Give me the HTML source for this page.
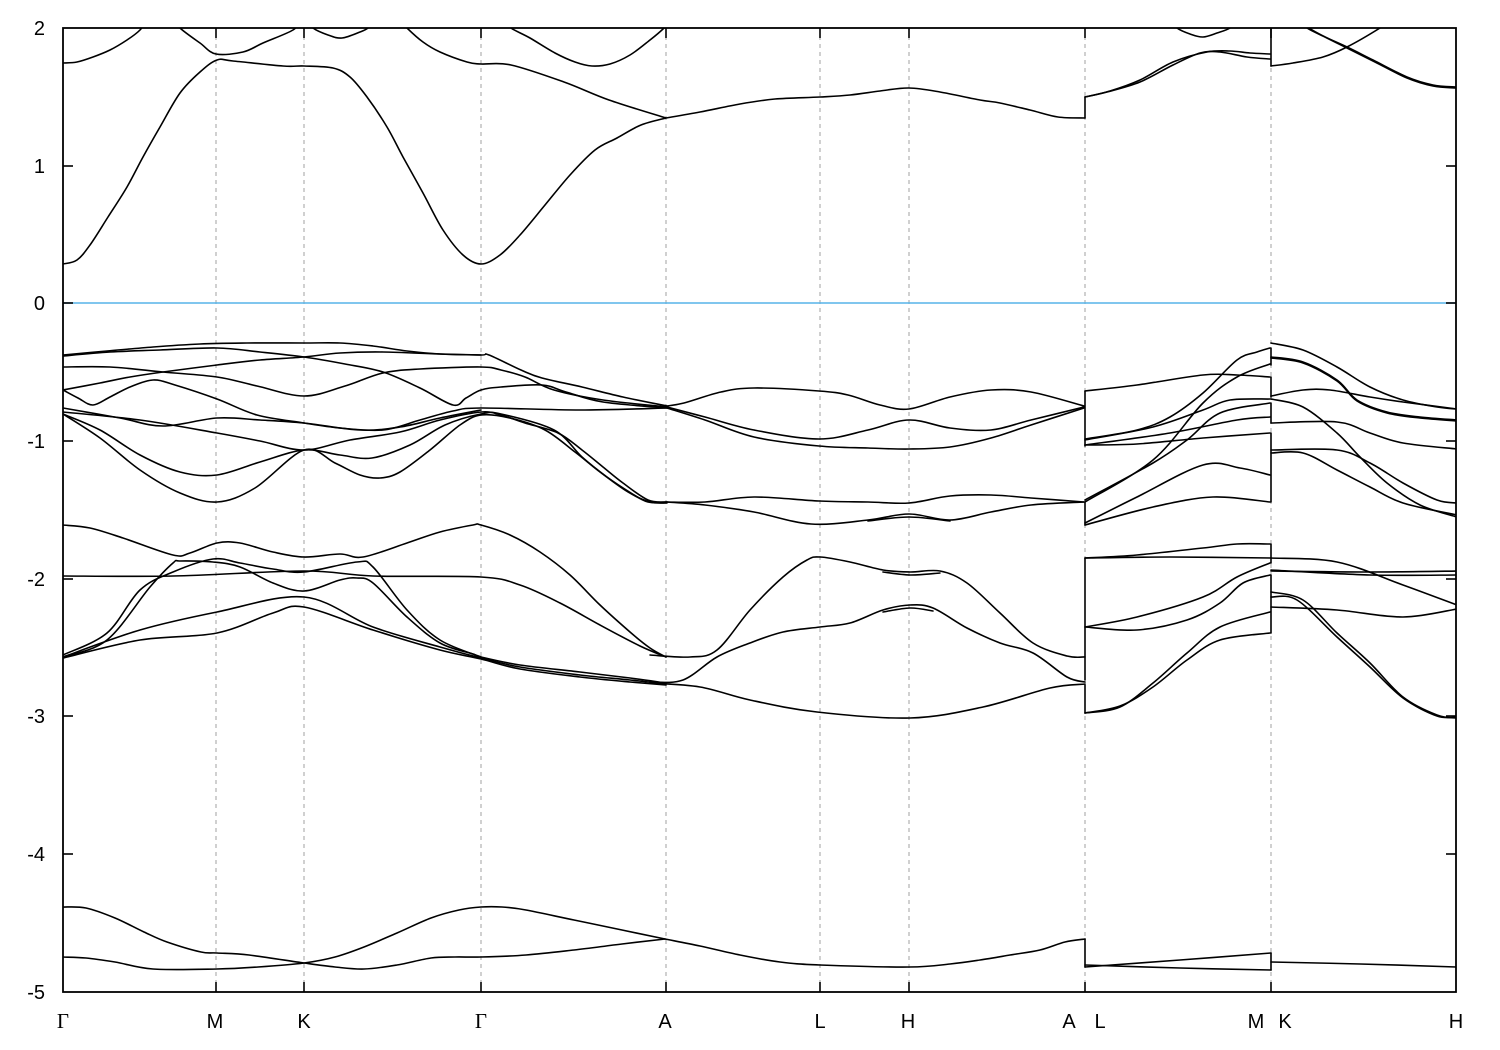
<!DOCTYPE html>
<html><head><meta charset="utf-8"><style>
html,body{margin:0;padding:0;background:#fff;}
svg{display:block;}
text{font-family:"Liberation Sans",sans-serif;font-size:20px;fill:#000;}
.b polyline,.b path,.b line{fill:none;stroke:#000;stroke-width:1.6;stroke-linejoin:round;stroke-linecap:round;}
.g{stroke:#a0a0a0;stroke-width:1;stroke-dasharray:4,4;}
</style></head><body>
<svg id="s" width="1500" height="1050" viewBox="0 0 1500 1050" xmlns="http://www.w3.org/2000/svg">
<defs><clipPath id="cp"><rect x="63" y="28" width="1393" height="964"/></clipPath></defs>
<rect width="1500" height="1050" fill="#fff"/>
<g class="g">
<line x1="216" y1="28" x2="216" y2="992"/><line x1="304" y1="28" x2="304" y2="992"/>
<line x1="481" y1="28" x2="481" y2="992"/><line x1="666" y1="28" x2="666" y2="992"/>
<line x1="820" y1="28" x2="820" y2="992"/><line x1="909" y1="28" x2="909" y2="992"/>
<line x1="1085" y1="28" x2="1085" y2="992"/><line x1="1271" y1="28" x2="1271" y2="992"/>
</g>
<line x1="63" y1="303" x2="1456" y2="303" stroke="#56b4e9" stroke-width="1.6"/>
<g clip-path="url(#cp)">
<g class="b" id="bands">
<!-- conduction -->
<polyline points="63,264 77,260 90,245 108,217 127,187 143,157 160,127 180,93 200,72 217,60 233,61 283,66 304,66 333,68 350,77 367,97 387,127 403,157 423,193 443,230 463,255 481,264 500,255 520,235 545,205 570,175 595,150 617,138 641,125 666,118"/>
<polyline points="63,63 77,62 93,57 110,50 127,40 140,30 146,20"/>
<polyline points="176,20 180,28 200,43 216,54 243,52 263,43 293,30 300,20"/>
<polyline points="308,20 313,28 328,35 342,38 360,32 368,28 375,20"/>
<polyline points="400,20 407,28 423,42 440,52 467,62 481,64 511,65 564,82 609,100 666,118"/>
<polyline points="505,20 511,28 530,38 555,53 575,62 592,66 610,64 630,55 650,40 664,28 670,20"/>
<polyline points="666,118 700,112 740,104 775,99 820,97 850,95 880,91 909,88 940,92 980,100 1000,103 1030,110 1058,117 1085,118"/>
<line x1="1085" y1="118" x2="1085" y2="97"/>
<polyline points="1085,97 1107,92 1140,82 1173,65 1200,53 1220,52 1247,57 1270,59"/>
<polyline points="1085,97 1110,91 1140,80 1173,62 1207,52 1230,51 1250,53 1270,54"/>
<polyline points="1172,20 1177,28 1190,34 1203,37 1217,33 1230,28 1236,20"/>
<line x1="1271" y1="28" x2="1271" y2="66"/>
<polyline points="1271,66 1293,63 1323,57 1347,47 1380,28 1390,20"/>
<polyline points="1300,20 1307,28 1325,37 1347,47 1373,60 1407,77 1433,85 1456,87"/>
<polyline points="1302,20 1309,28 1327,38 1349,49 1375,62 1407,78 1433,86 1456,88"/>
<!-- upper valence G-M-K-G -->
<polyline points="63,355 107,351 153,347 200,344 247,343 304,343 340,343 373,346 407,351 440,354 481,355 489,355 521,370 542,378 582,387 623,397 667,406"/>
<polyline points="63,356 110,352 160,350 217,348 260,352 304,357 345,364 383,372 420,388 453,405 466,398 481,390 501,387 542,385 566,392 603,402 667,408"/>
<polyline points="63,367 110,367 163,372 217,377 257,386 304,396 345,386 383,373 420,369 481,367 501,370 525,377 554,390 603,400 667,407"/>
<polyline points="63,390 78,398 93,405 110,397 130,387 153,380 175,385 217,399 257,415 304,423 340,428 383,430 420,420 453,411 481,408 580,410 667,408"/>
<polyline points="63,390 100,383 130,377 163,372 217,365 260,360 304,357 340,353 383,352 440,354 481,355"/>
<polyline points="63,408 120,418 163,426 217,418 260,420 304,423 360,430 400,427 440,418 481,410"/>
<polyline points="63,412 140,420 217,433 260,441 304,450 350,440 400,432 440,420 481,412 501,415 525,423 558,433 582,450 603,467 623,483 648,500 667,502"/>
<polyline points="63,414 100,430 140,455 180,472 217,475 260,462 304,450 340,455 372,458 410,445 445,425 481,414 501,414 554,430 582,457 607,477 631,493 648,502 667,502"/>
<polyline points="63,414 100,438 140,470 180,493 217,502 255,488 304,450 335,463 360,475 380,478 400,472 430,450 460,425 481,415 510,418 545,430 575,452 600,472 628,492 650,502 667,503"/>
<!-- A-L-H-A upper -->
<polyline points="667,406 684,403 721,392 754,388 819,391 848,395 880,405 909,409 950,397 991,390 1031,392 1084,406"/>
<polyline points="667,407 705,417 754,430 819,439 868,430 909,420 950,428 991,430 1031,420 1084,407"/>
<polyline points="667,408 705,420 754,437 819,446 868,448 909,449 950,447 991,438 1031,425 1084,408"/>
<polyline points="667,502 705,502 754,497 819,501 868,502 909,503 950,496 991,495 1031,498 1084,502"/>
<polyline points="667,502 705,505 754,512 811,524 868,520 909,514 950,520 991,512 1031,505 1084,502"/>
<polyline points="868,521 909,517 950,521"/>
<line x1="1085" y1="391" x2="1085" y2="446"/><line x1="1085" y1="502" x2="1085" y2="525"/>
<!-- L-M upper -->
<polyline points="1085,391 1137,385 1203,375 1237,375 1270,377"/>
<polyline points="1085,439 1137,430 1170,417 1203,393 1237,360 1257,352 1270,348"/>
<polyline points="1085,440 1153,427 1203,410 1230,400 1270,399"/>
<polyline points="1085,445 1170,433 1237,420 1270,417"/>
<polyline points="1085,445 1137,444 1203,438 1270,433"/>
<polyline points="1085,502 1153,460 1203,403 1237,377 1270,364"/>
<polyline points="1085,500 1153,463 1187,440 1220,413 1270,403"/>
<polyline points="1085,523 1137,497 1203,465 1240,468 1270,475"/>
<polyline points="1085,525 1153,507 1213,497 1270,502"/>
<line x1="1271" y1="348" x2="1271" y2="365"/><line x1="1271" y1="377" x2="1271" y2="397"/>
<line x1="1271" y1="403" x2="1271" y2="423"/><line x1="1271" y1="433" x2="1271" y2="502"/>
<!-- K-H upper -->
<polyline points="1271,343 1303,350 1337,367 1370,387 1403,400 1437,407 1457,409"/>
<polyline points="1271,357 1303,362 1337,380 1357,400 1387,412 1420,417 1457,420"/>
<polyline points="1271,358 1303,363 1337,381 1357,401 1387,413 1420,418 1457,421"/>
<polyline points="1271,396 1303,390 1330,390 1370,397 1403,402 1457,409"/>
<polyline points="1271,399 1303,407 1337,433 1360,457 1387,483 1420,505 1457,517"/>
<polyline points="1271,423 1337,422 1370,433 1403,443 1457,449"/>
<polyline points="1271,450 1337,450 1370,463 1403,483 1437,500 1457,503"/>
<polyline points="1271,453 1303,453 1337,470 1370,487 1403,503 1457,515"/>
<!-- middle group G-M-K-G-A -->
<polyline points="63,525 90,528 123,538 173,555 190,553 217,543 240,543 273,552 304,557 340,554 363,557 407,543 440,532 473,525 481,525 510,535 540,552 570,575 600,605 630,632 650,648 666,657"/>
<polyline points="63,576 173,576 304,571 373,576 481,577 520,585 560,603 600,625 640,646 666,657"/>
<polyline points="63,657 107,640 150,587 173,563 180,561 213,562 240,567 273,583 304,591 340,580 357,578 373,583 407,617 440,643 473,654 481,657 520,665 580,672 630,678 666,683"/>
<polyline points="63,655 107,633 140,590 173,572 213,559 240,563 273,569 304,572 357,562 373,567 407,610 440,640 481,657"/>
<polyline points="63,657 140,630 217,612 304,597 373,627 440,647 481,658 520,667 580,675 630,680 666,684"/>
<polyline points="63,658 140,640 217,633 273,613 304,607 373,630 440,650 481,659 520,669 580,677 630,682 666,685"/>
<!-- A-L-H-A middle -->
<polyline points="650,655 690,657 717,650 750,610 783,577 807,560 820,557 850,562 883,570 910,572 940,571 967,583 1000,613 1033,643 1067,656 1085,657"/>
<polyline points="883,572 910,575 940,573"/>
<polyline points="650,682 683,680 717,657 750,643 783,632 820,627 850,623 883,610 910,605 933,608 967,628 1000,643 1033,653 1067,677 1085,682"/>
<polyline points="883,612 910,608 933,611"/>
<polyline points="650,683 700,687 750,700 817,712 910,718 983,707 1050,688 1085,684"/>
<line x1="1085" y1="558" x2="1085" y2="680"/><line x1="1085" y1="685" x2="1085" y2="713"/>
<!-- L-M middle -->
<polyline points="1085,558 1137,555 1203,548 1237,544 1270,544"/>
<polyline points="1085,558 1170,557 1271,558"/>
<polyline points="1085,627 1137,617 1203,597 1237,577 1270,563"/>
<polyline points="1085,627 1137,630 1187,620 1220,603 1243,583 1270,575"/>
<polyline points="1085,713 1120,707 1153,683 1187,653 1220,627 1270,612"/>
<polyline points="1085,713 1120,706 1153,687 1187,660 1220,640 1270,633"/>
<line x1="1271" y1="544" x2="1271" y2="563"/><line x1="1271" y1="575" x2="1271" y2="633"/>
<!-- K-H middle -->
<polyline points="1271,558 1337,562 1403,585 1457,605"/>
<polyline points="1271,571 1370,572 1457,571"/>
<polyline points="1271,570 1370,575 1457,575"/>
<polyline points="1271,607 1337,610 1403,617 1457,609"/>
<polyline points="1271,592 1303,600 1337,633 1370,663 1403,697 1437,715 1457,718"/>
<polyline points="1271,597 1297,600 1337,637 1370,667 1403,698 1437,716 1457,717"/>
<!-- bottom band -->
<polyline points="63,907 86,908 115,918 144,932 167,942 201,952 217,953 249,955 304,963 335,967 364,969 397,965 431,958 455,957 481,957 526,955 574,950 622,944 665,939"/>
<polyline points="63,957 86,958 115,962 153,969 217,969 258,967 304,963 335,957 364,947 397,933 431,918 459,910 481,907 502,907 526,910 574,920 622,930 665,939"/>
<polyline points="665,939 700,946 740,955 780,962 820,965 909,967 950,964 980,960 1010,955 1040,950 1065,942 1085,939"/>
<line x1="1085" y1="939" x2="1085" y2="967"/>
<polyline points="1085,965 1180,968 1271,970"/>
<polyline points="1085,967 1180,960 1271,953"/>
<line x1="1271" y1="953" x2="1271" y2="970"/>
<polyline points="1271,962 1360,964 1456,967"/>
</g></g>
<rect x="63" y="28" width="1393" height="964" fill="none" stroke="#000" stroke-width="1.8"/>
<g stroke="#000" stroke-width="1.6">
<line x1="63" y1="166" x2="73" y2="166"/><line x1="63" y1="303" x2="73" y2="303"/>
<line x1="63" y1="441" x2="73" y2="441"/><line x1="63" y1="579" x2="73" y2="579"/>
<line x1="63" y1="716" x2="73" y2="716"/><line x1="63" y1="854" x2="73" y2="854"/>
<line x1="1446" y1="166" x2="1456" y2="166"/><line x1="1446" y1="303" x2="1456" y2="303"/>
<line x1="1446" y1="441" x2="1456" y2="441"/><line x1="1446" y1="579" x2="1456" y2="579"/>
<line x1="1446" y1="716" x2="1456" y2="716"/><line x1="1446" y1="854" x2="1456" y2="854"/>
<line x1="216" y1="28" x2="216" y2="38"/><line x1="304" y1="28" x2="304" y2="38"/>
<line x1="481" y1="28" x2="481" y2="38"/><line x1="666" y1="28" x2="666" y2="38"/>
<line x1="820" y1="28" x2="820" y2="38"/><line x1="909" y1="28" x2="909" y2="38"/>
<line x1="1085" y1="28" x2="1085" y2="38"/><line x1="1271" y1="28" x2="1271" y2="38"/>
<line x1="216" y1="982" x2="216" y2="992"/><line x1="304" y1="982" x2="304" y2="992"/>
<line x1="481" y1="982" x2="481" y2="992"/><line x1="666" y1="982" x2="666" y2="992"/>
<line x1="820" y1="982" x2="820" y2="992"/><line x1="909" y1="982" x2="909" y2="992"/>
<line x1="1085" y1="982" x2="1085" y2="992"/><line x1="1271" y1="982" x2="1271" y2="992"/>
</g>
<g text-anchor="end">
<text x="45" y="35">2</text>
<text x="45" y="173">1</text>
<text x="45" y="310">0</text>
<text x="45" y="448">-1</text>
<text x="45" y="586">-2</text>
<text x="45" y="723">-3</text>
<text x="45" y="861">-4</text>
<text x="45" y="999">-5</text>
</g>
<g text-anchor="middle">
<text x="63" y="1028" style="font-family:'Liberation Serif',serif;font-size:21px">Γ</text>
<text x="215" y="1028">M</text>
<text x="304" y="1028">K</text>
<text x="481" y="1028" style="font-family:'Liberation Serif',serif;font-size:21px">Γ</text>
<text x="665" y="1028">A</text>
<text x="820" y="1028">L</text>
<text x="908" y="1028">H</text>
<text x="1069" y="1028">A</text>
<text x="1100" y="1028">L</text>
<text x="1256" y="1028">M</text>
<text x="1285" y="1028">K</text>
<text x="1456" y="1028">H</text>
</g>
</svg>
<script>
(function(){
var g=document.getElementById('bands');if(!g)return;
var pls=g.querySelectorAll('polyline');
for(var k=0;k<pls.length;k++){
var pl=pls[k];var raw=pl.getAttribute('points').trim().split(/\s+/);
var p=raw.map(function(s){var a=s.split(',');return [parseFloat(a[0]),parseFloat(a[1])];});
if(p.length<3)continue;
var d='M'+p[0][0]+','+p[0][1];
for(var i=0;i<p.length-1;i++){
var p0=p[i>0?i-1:i],p1=p[i],p2=p[i+1],p3=p[i+2<p.length?i+2:i+1];
var c1x=p1[0]+(p2[0]-p0[0])/6,c1y=p1[1]+(p2[1]-p0[1])/6;
var c2x=p2[0]-(p3[0]-p1[0])/6,c2y=p2[1]-(p3[1]-p1[1])/6;
d+=' C'+c1x.toFixed(1)+','+c1y.toFixed(1)+' '+c2x.toFixed(1)+','+c2y.toFixed(1)+' '+p2[0]+','+p2[1];
}
var path=document.createElementNS('http://www.w3.org/2000/svg','path');
path.setAttribute('d',d);
pl.parentNode.replaceChild(path,pl);
}
})();
</script>
</body></html>
